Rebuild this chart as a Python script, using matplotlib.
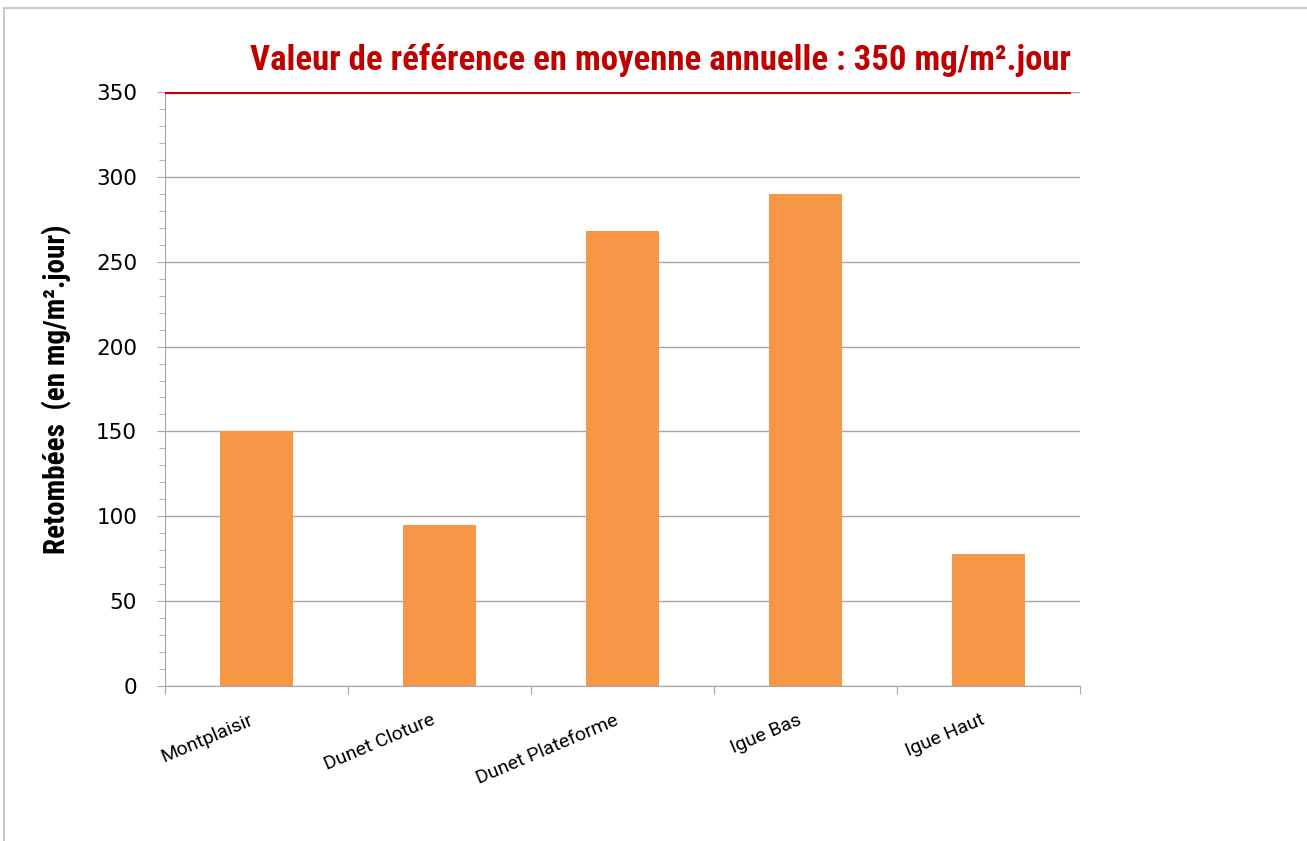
import numpy as np
import matplotlib
matplotlib.use('Agg')
import matplotlib.pyplot as plt
from matplotlib.ticker import MultipleLocator
from matplotlib.lines import Line2D

# Data
sites = ['Montplaisir', 'Dunet Cloture', 'Dunet Plateforme', 'Igue Bas', 'Igue Haut']
retombees = [150, 95, 268, 290, 78]
reference = 350

narrow = ['Roboto Condensed', 'Roboto', 'DejaVu Sans']
regular = ['Roboto', 'DejaVu Sans']

fig = plt.figure(figsize=(13.07, 8.41), dpi=100)
ax = fig.add_axes([0.1262, 0.1843, 0.7001, 0.7063])

x = np.arange(len(sites))
ax.bar(x, retombees, width=0.4, color='#F79646', zorder=3)

# reference line
ax.hlines(reference, -0.5, 4.45, colors='#C00000', linewidth=3, zorder=4)
ax.text(4.45, reference + 9, 'Valeur de référence en moyenne annuelle : 350 mg/m².jour',
        ha='right', va='bottom', color='#C00000', fontsize=25, fontweight='bold',
        family=narrow)

ax.set_xlim(-0.5, len(sites) - 0.5)
ax.set_ylim(0, 350)
ax.yaxis.set_major_locator(MultipleLocator(50))
ax.yaxis.set_minor_locator(MultipleLocator(10))
ax.grid(axis='y', which='major', color='#A6A6A6', linewidth=1, zorder=0)

# category boundaries as major ticks, labels on (slightly left-shifted) minor ticks
ax.set_xticks(np.arange(-0.5, len(sites), 1.0))
ax.set_xticklabels([])
ax.set_xticks(x - 0.045, minor=True)
ax.set_xticklabels(sites, minor=True, rotation=23, ha='right', rotation_mode='anchor',
                   fontsize=14, family=regular)
ax.tick_params(axis='x', which='minor', length=0, pad=18)
ax.tick_params(axis='x', which='major', length=6, color='#A6A6A6')
ax.tick_params(axis='y', which='major', length=6, color='#A6A6A6', labelsize=15.5, pad=14)
ax.tick_params(axis='y', which='minor', length=4, color='#A6A6A6')

for s in ['top', 'right']:
    ax.spines[s].set_visible(False)
for s in ['left', 'bottom']:
    ax.spines[s].set_color('#A6A6A6')

ax.set_ylabel('Retombées  (en mg/m².jour)', fontsize=21, fontweight='bold',
              family=narrow, labelpad=17)

# outer frame of the chart area (cropped at right and bottom)
fig.add_artist(Line2D([3.5 / 1307, 1], [1 - 7.5 / 841, 1 - 7.5 / 841],
                      transform=fig.transFigure, color='#C8C8C8', linewidth=1.5))
fig.add_artist(Line2D([3.5 / 1307, 3.5 / 1307], [0, 1 - 7.5 / 841],
                      transform=fig.transFigure, color='#C8C8C8', linewidth=1.5))

fig.savefig('out.png', dpi=100)
